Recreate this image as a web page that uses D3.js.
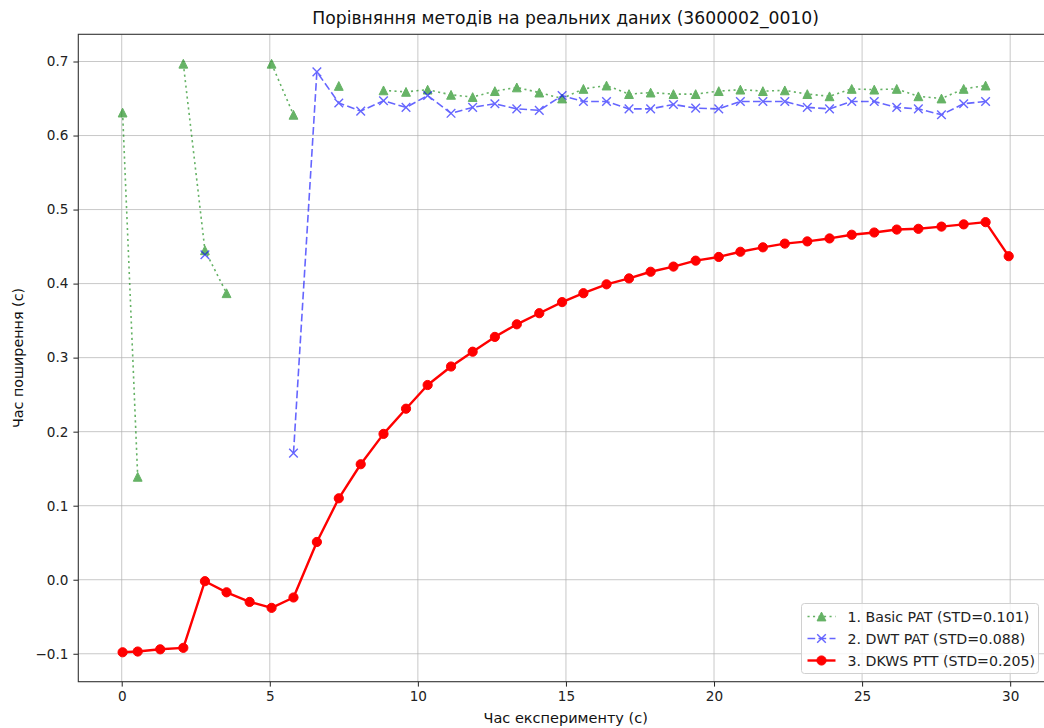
<!DOCTYPE html>
<html>
<head>
<meta charset="utf-8">
<script src="https://cdn.jsdelivr.net/npm/d3@7"></script>
<style>
  html, body { margin: 0; padding: 0; background: #fff; }
  svg { display: block; font-family: "DejaVu Sans", sans-serif; }
</style>
</head>
<body>
<svg id="chart" width="1044" height="728"></svg>
<script>
// Time of each analysis window (s)
const times = [0.03, 0.54, 1.30, 2.08, 2.81, 3.54, 4.32, 5.06, 5.80, 6.59,
  7.33, 8.07, 8.84, 9.60, 10.33, 11.12, 11.85, 12.60, 13.34, 14.10,
  14.87, 15.59, 16.37, 17.13, 17.86, 18.63, 19.38, 20.16, 20.89, 21.65,
  22.39, 23.15, 23.90, 24.65, 25.41, 26.17, 26.90, 27.68, 28.43, 29.17, 29.95];

// 1. Basic PAT (null = no detection in that window)
const basicPat = [0.631, 0.139, null, 0.697, 0.445, 0.387, null, 0.697, 0.628, null,
  0.667, null, 0.661, 0.659, 0.662, 0.655, 0.652, 0.660, 0.665, 0.658,
  0.650, 0.663, 0.6675, 0.656, 0.658, 0.656, 0.656, 0.660, 0.662, 0.660,
  0.661, 0.656, 0.653, 0.663, 0.662, 0.663, 0.653, 0.650, 0.663, 0.6675, null];

// 2. DWT PAT
const dwtPat = [null, null, null, null, 0.439, null, null, null, 0.171, 0.686,
  0.644, 0.633, 0.647, 0.638, 0.654, 0.630, 0.638, 0.643, 0.636, 0.634,
  0.654, 0.646, 0.646, 0.636, 0.636, 0.642, 0.637, 0.636, 0.646, 0.646,
  0.646, 0.638, 0.636, 0.646, 0.646, 0.638, 0.636, 0.628, 0.643, 0.646, null];

// 3. DKWS PTT
const dkwsPtt = [-0.098, -0.097, -0.094, -0.092, -0.002, -0.017, -0.030, -0.038, -0.024, 0.051,
  0.110, 0.156, 0.197, 0.231, 0.263, 0.288, 0.308, 0.328, 0.345, 0.360,
  0.375, 0.387, 0.399, 0.407, 0.416, 0.423, 0.431, 0.436, 0.443, 0.449,
  0.454, 0.457, 0.461, 0.466, 0.469, 0.473, 0.474, 0.477, 0.480, 0.483, 0.437];

const seriesLabels = ["1. Basic PAT (STD=0.101)", "2. DWT PAT (STD=0.088)", "3. DKWS PTT (STD=0.205)"];
const xTicks = [0, 5, 10, 15, 20, 25, 30];
const yTicks = [-0.1, 0.0, 0.1, 0.2, 0.3, 0.4, 0.5, 0.6, 0.7];

const titleText = "Порівняння методів на реальних даних (3600002_0010)";
const xLabelText = "Час експерименту (с)";
const yLabelText = "Час поширення (с)";

const svg = d3.select("#chart");
const plot = { left: 78.3, top: 34.3, right: 1053, bottom: 681.7 };

// Axis limits padded by 5% of the data range on each side
const allY = [...basicPat, ...dwtPat, ...dkwsPtt].filter(v => v != null);
const xMin = d3.min(times), xMax = d3.max(times);
const yMin = d3.min(allY), yMax = d3.max(allY);
const xPad = (xMax - xMin) * 0.05, yPad = (yMax - yMin) * 0.05;

const x = d3.scaleLinear().domain([xMin - xPad, xMax + xPad]).range([plot.left, plot.right]);
const y = d3.scaleLinear().domain([yMin - yPad, yMax + yPad]).range([plot.bottom, plot.top]);

svg.append("defs").append("clipPath").attr("id", "plotClip")
  .append("rect")
  .attr("x", plot.left).attr("y", plot.top)
  .attr("width", plot.right - plot.left).attr("height", plot.bottom - plot.top);

// Grid
const grid = svg.append("g").attr("stroke", "#b0b0b0").attr("stroke-opacity", 0.7).attr("stroke-width", 1);
grid.selectAll("line.vx").data(xTicks).join("line")
  .attr("x1", d => x(d)).attr("x2", d => x(d))
  .attr("y1", plot.top).attr("y2", plot.bottom);
grid.selectAll("line.hy").data(yTicks).join("line")
  .attr("x1", plot.left).attr("x2", plot.right)
  .attr("y1", d => y(d)).attr("y2", d => y(d));

// Axes
const fmtY = v => d3.format(".1f")(v).replace("-", "\u2212");
const xAxis = svg.append("g").attr("transform", `translate(0,${plot.bottom})`)
  .call(d3.axisBottom(x).tickValues(xTicks).tickFormat(d3.format("d")).tickSize(4.9).tickPadding(5));
const yAxis = svg.append("g").attr("transform", `translate(${plot.left},0)`)
  .call(d3.axisLeft(y).tickValues(yTicks).tickFormat(fmtY).tickSize(4.9).tickPadding(5));
[xAxis, yAxis].forEach(a => {
  a.select(".domain").remove();
  a.selectAll("text").attr("font-size", 13.6).attr("fill", "#222").attr("font-family", "DejaVu Sans");
  a.selectAll("line").attr("stroke", "#222").attr("stroke-width", 1);
});

// Frame
svg.append("rect")
  .attr("x", plot.left).attr("y", plot.top)
  .attr("width", plot.right - plot.left).attr("height", plot.bottom - plot.top)
  .attr("fill", "none").attr("stroke", "#333").attr("stroke-width", 1.1);

// Series definitions
const series = [
  { label: seriesLabels[0], values: basicPat, color: "#008000", opacity: 0.6, width: 1.6, dash: "2.1,3.4", cap: "butt", marker: "triangle" },
  { label: seriesLabels[1], values: dwtPat, color: "#0000ff", opacity: 0.6, width: 1.6, dash: "7.7,3.3", cap: "butt", marker: "x" },
  { label: seriesLabels[2], values: dkwsPtt, color: "#ff0000", opacity: 1.0, width: 2.4, dash: null, cap: "butt", marker: "circle" }
];

const triPath = s => `M0,${-s}L${-s},${s}L${s},${s}Z`;
const xPath = s => `M${-s},${-s}L${s},${s}M${-s},${s}L${s},${-s}`;

function drawMarker(sel, kind, color) {
  if (kind === "triangle") {
    sel.append("path").attr("d", triPath(4.4)).attr("fill", color).attr("stroke", color).attr("stroke-width", 1);
  } else if (kind === "x") {
    sel.append("path").attr("d", xPath(4.3)).attr("fill", "none").attr("stroke", color).attr("stroke-width", 1.4);
  } else {
    sel.append("circle").attr("r", 4.6).attr("fill", color).attr("stroke", color).attr("stroke-width", 1);
  }
}

const dataLayer = svg.append("g").attr("clip-path", "url(#plotClip)");
series.forEach(s => {
  const pts = times.map((t, i) => ({ t, v: s.values[i] }));
  const line = d3.line().defined(d => d.v != null).x(d => x(d.t)).y(d => y(d.v));
  const g = dataLayer.append("g").attr("opacity", s.opacity);
  g.append("path").datum(pts).attr("d", line)
    .attr("fill", "none").attr("stroke", s.color).attr("stroke-width", s.width)
    .attr("stroke-dasharray", s.dash).attr("stroke-linecap", s.cap).attr("stroke-linejoin", "round");
  g.selectAll("g.mk").data(pts.filter(d => d.v != null)).join("g")
    .attr("transform", d => `translate(${x(d.t)},${y(d.v)})`)
    .each(function () { drawMarker(d3.select(this), s.marker, s.color); });
});

// Title and axis labels
svg.append("text").attr("x", (plot.left + plot.right) / 2).attr("y", 24)
  .attr("text-anchor", "middle").attr("font-size", 17.2).attr("fill", "#111").text(titleText);
svg.append("text").attr("x", (plot.left + plot.right) / 2).attr("y", 723)
  .attr("text-anchor", "middle").attr("font-size", 14.5).attr("fill", "#111").text(xLabelText);
svg.append("text").attr("transform", `translate(23,${(plot.top + plot.bottom) / 2}) rotate(-90)`)
  .attr("text-anchor", "middle").attr("font-size", 14.3).attr("fill", "#111").text(yLabelText);

// Legend
const legend = svg.append("g").attr("transform", "translate(801.5,603.5)");
legend.append("rect").attr("width", 237).attr("height", 70).attr("rx", 3)
  .attr("fill", "#fff").attr("fill-opacity", 0.8).attr("stroke", "#d0d0d0").attr("stroke-width", 1);
series.forEach((s, i) => {
  const row = legend.append("g").attr("transform", `translate(0,${13 + i * 22})`);
  const h = row.append("g").attr("opacity", s.opacity);
  h.append("line").attr("x1", 6).attr("x2", 34).attr("y1", 0).attr("y2", 0)
    .attr("stroke", s.color).attr("stroke-width", s.width)
    .attr("stroke-dasharray", s.dash).attr("stroke-linecap", s.cap);
  const m = h.append("g").attr("transform", "translate(20,0)");
  drawMarker(m, s.marker, s.color);
  row.append("text").attr("x", 46).attr("y", 5).attr("font-size", 14.2).attr("fill", "#222").text(s.label);
});
</script>
</body>
</html>
